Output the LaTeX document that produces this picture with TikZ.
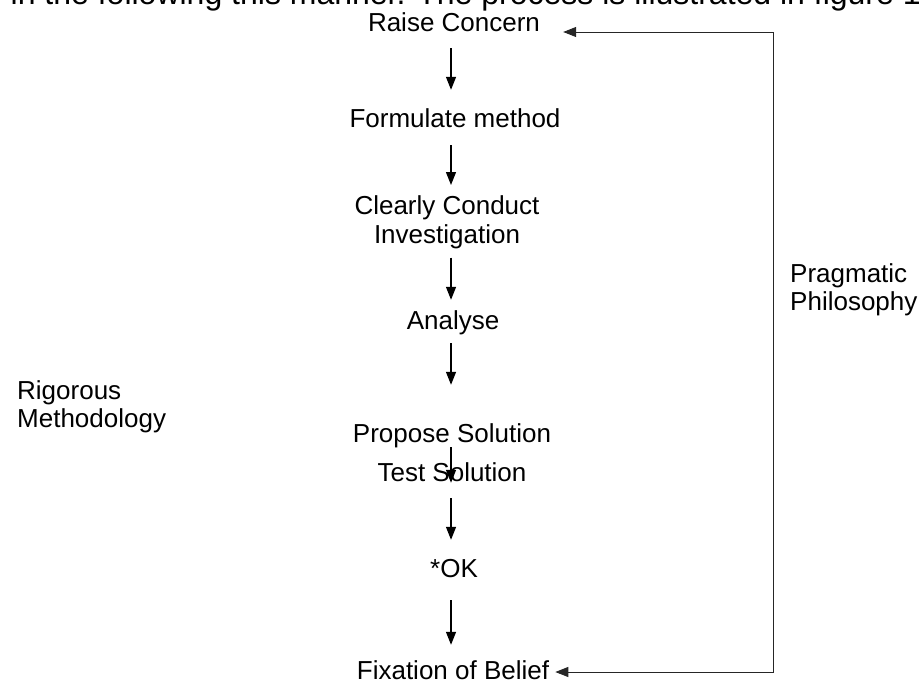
\documentclass[tikz,border=0pt]{standalone}
\usepackage{fontspec}
\setmainfont{Liberation Sans}
\usetikzlibrary{arrows.meta}
\begin{document}
\begin{tikzpicture}[x=1pt,y=-1pt,
  lbl/.style={inner sep=0pt, font=\fontsize{26}{30}\selectfont, text height=19pt, text depth=5pt, anchor=base},
  two/.style={inner sep=0pt, font=\fontsize{26}{29}\selectfont, align=center, anchor=north},
  side/.style={inner sep=0pt, font=\fontsize{26}{28}\selectfont, align=left, anchor=north west},
  arr/.style={-{Triangle[length=13pt,width=10pt]}, line width=1.3pt},
  loopline/.style={{Triangle[length=13pt,width=10pt]}-{Triangle[length=13pt,width=10pt]}, line width=1pt, draw=black!85}]
\useasboundingbox (0,0) rectangle (923,688);
\clip (0,0) rectangle (923,688);

% running text of the page, cut by the frame
\node[inner sep=0pt, anchor=base east, font=\fontsize{32}{36}\selectfont] (txt) at (921,5)
  {in the following this manner. The process is illustrated in figure 1};

% x position of the vertical arrows
\coordinate (ax) at (451,0);

% steps
\node[lbl] (rc) at (454,31) {Raise Concern};
\node[lbl] (fm) at (455,127) {Formulate method};
\node[two] (cc) at (447,195) {Clearly Conduct\\Investigation};
\node[lbl] (an) at (453,329) {Analyse};
\node[lbl] (ps) at (452,442) {Propose Solution};
\node[lbl] (ts) at (452,481) {Test Solution};
\node[lbl] (ok) at (454,577) {*OK};
\node[lbl] (fb) at (453,679) {Fixation of Belief};

% side labels
\node[side] (rm) at (17,380) {Rigorous\\Methodology};
\node[side] (pp) at (790,263) {Pragmatic\\Philosophy};

% downward arrows
\draw[arr, shorten <=12pt, shorten >=18pt] (rc.south -| ax) -- (fm.north -| ax);
\draw[arr, shorten <=13pt, shorten >=10pt] (fm.south -| ax) -- (cc.north -| ax);
\draw[arr, shorten <=9pt,  shorten >=10pt] (cc.south -| ax) -- (an.north -| ax);
\draw[arr, shorten <=9pt,  shorten >=38pt] (an.south -| ax) -- (ps.north -| ax);
\draw[arr, shorten <=0pt,  shorten >=-21pt] (ps.south -| ax) -- (ts.north -| ax);
\draw[arr, shorten <=12pt, shorten >=18pt] (ts.south -| ax) -- (ok.north -| ax);
\draw[arr, shorten <=18pt, shorten >=15pt] (ok.south -| ax) -- (fb.north -| ax);

% feedback loop
\coordinate (c1) at (773,32);
\coordinate (c2) at (773,672);
\draw[loopline, shorten <=6pt, shorten >=23pt] (fb.east |- c2) -- (c2) -- (c1) -- (rc.east |- c1);
\end{tikzpicture}
\end{document}
